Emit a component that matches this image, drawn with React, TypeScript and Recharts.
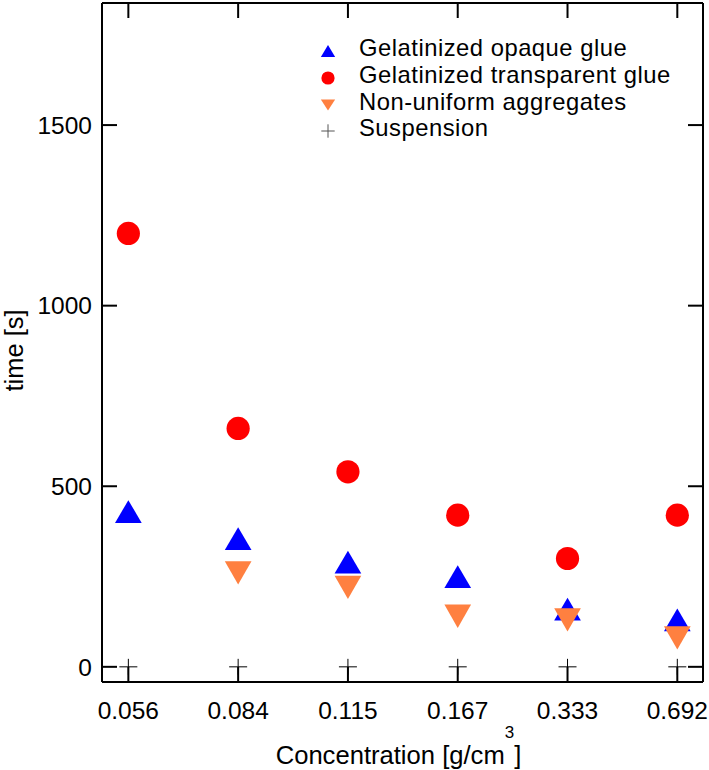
import React from "react";
import { ScatterChart, Scatter, XAxis, YAxis, Legend, Label } from "recharts";

// concentrations on the x axis (categorical, evenly spaced)
const concentrations = ["0.056", "0.084", "0.115", "0.167", "0.333", "0.692"];

// time [s] per series
const opaqueGlue = [430, 355, 290, 250, 160, 130];
const transparentGlue = [1200, 660, 540, 420, 300, 420];
const aggregates = [null, 260, 220, 140, 130, 80];
const suspension = [0, 0, 0, 0, 0, 0];

const yTicks = [0, 500, 1000, 1500];
const xTicks = concentrations.map((_, i) => i);

const toPoints = (vals: (number | null)[]) =>
    vals.map((v, i) => ({x: i, y: v})).filter((p) => p.y !== null);

const FONT = "'Liberation Sans', Arial, Helvetica, sans-serif";
const xDomain = [-0.24, 5.234];
const yDomain = [-42, 1838];

const UpTriangle = ({cx, cy, w = 26.7, h = 22.7, fill}: any) => (
    <polygon
        points={`${cx - w / 2},${cy + h / 2} ${cx + w / 2},${cy + h / 2} ${cx},${cy - h / 2}`}
        fill={fill}
    />
);

const DownTriangle = ({cx, cy, w = 26.7, h = 23.3, fill}: any) => (
    <polygon
        points={`${cx - w / 2},${cy - h / 2} ${cx + w / 2},${cy - h / 2} ${cx},${cy + h / 2}`}
        fill={fill}
    />
);

const Dot = ({cx, cy, r = 11.6, fill}: any) => <circle cx={cx} cy={cy} r={r} fill={fill}/>;

const Plus = ({cx, cy, hw = 9, hh = 8, stroke = "#000"}: any) => (
    <g stroke={stroke} strokeWidth={1}>
        <line x1={cx - hw} y1={cy} x2={cx + hw} y2={cy}/>
        <line x1={cx} y1={cy - hh} x2={cx} y2={cy + hh}/>
    </g>
);

const Nothing = () => <g/>;

const legendMarkers: Record<string, (c: number) => React.ReactNode> = {
    "Gelatinized opaque glue": (c) => <UpTriangle cx={c} cy={c} w={14.3} h={12} fill="#0000FF"/>,
    "Gelatinized transparent glue": (c) => <Dot cx={c} cy={c} r={6.6} fill="#FF0000"/>,
    "Non-uniform aggregates": (c) => <DownTriangle cx={c} cy={c} w={14.3} h={11} fill="#FF8040"/>,
    "Suspension": (c) => <Plus cx={c} cy={c} hw={6.7} hh={6.7} stroke="#555"/>,
};

const LegendBox = ({payload}: any) => (
    <div style={{fontFamily: FONT, fontSize: 23.8, letterSpacing: 0.5, color: "#000"}}>
        {(payload || [])
            .filter((entry: any) => legendMarkers[entry.value])
            .map((entry: any) => (
                <div
                    key={entry.value}
                    style={{position: "relative", height: 26.8, whiteSpace: "nowrap"}}
                >
                    <svg width={32} height={26} style={{position: "absolute", left: 0, top: 0}}>
                        {legendMarkers[entry.value](16)}
                    </svg>
                    <span
                        style={{
                            position: "absolute",
                            left: 47,
                            top: 0,
                            display: "block",
                            height: 26.8,
                            lineHeight: "26.8px",
                        }}
                    >
                        {entry.value}
                    </span>
                </div>
            ))}
    </div>
);

const YTitle = ({viewBox}: any) => {
    const x = viewBox.x + 14;
    const y = viewBox.y + viewBox.height / 2 + 8;
    return (
        <text
            x={x}
            y={y}
            transform={`rotate(-90, ${x}, ${y})`}
            textAnchor="middle"
            dominantBaseline="central"
            fontSize={25.5}
            fill="#000"
        >
            time [s]
        </text>
    );
};

const XTitle = ({viewBox}: any) => {
    const x = viewBox.x + viewBox.width / 2 - 4;
    const y = viewBox.y + 82;
    return (
        <text x={x} y={y} textAnchor="middle" fontSize={25.6} fill="#000">
            <tspan>Concentration [g/cm</tspan>
            <tspan dy={-26} fontSize={17}>3</tspan>
            <tspan dy={26}>]</tspan>
        </text>
    );
};

const frame = {stroke: "#000", strokeWidth: 2};
const inTick = {stroke: "#000", strokeWidth: 2};

export default function App() {
    return (
        <div style={{position: "absolute", left: 0, top: 0, fontFamily: FONT, background: "#fff"}}>
            <ScatterChart
                width={709}
                height={770}
                margin={{top: 3, right: 6, bottom: 0, left: 0}}
            >
                <XAxis
                    xAxisId="b"
                    type="number"
                    dataKey="x"
                    domain={xDomain}
                    allowDataOverflow
                    ticks={xTicks}
                    tickFormatter={(i: number) => concentrations[i]}
                    tick={{fill: "#000", fontSize: 24.5}}
                    tickLine={false}
                    tickSize={0}
                    tickMargin={20}
                    axisLine={frame}
                    height={88}
                    interval={0}
                >
                    <Label content={<XTitle/>}/>
                </XAxis>
                <XAxis
                    xAxisId="bIn"
                    type="number"
                    dataKey="x"
                    domain={xDomain}
                    allowDataOverflow
                    ticks={xTicks}
                    orientation="bottom"
                    mirror
                    tick={<Nothing/>}
                    tickSize={15}
                    tickLine={inTick}
                    axisLine={false}
                    height={30}
                    interval={0}
                />
                <XAxis
                    xAxisId="t"
                    type="number"
                    dataKey="x"
                    domain={xDomain}
                    allowDataOverflow
                    ticks={xTicks}
                    orientation="top"
                    mirror
                    tick={<Nothing/>}
                    tickSize={15}
                    tickLine={inTick}
                    axisLine={frame}
                    height={30}
                    interval={0}
                />
                <YAxis
                    yAxisId="l"
                    type="number"
                    dataKey="y"
                    domain={yDomain}
                    allowDataOverflow
                    ticks={yTicks}
                    tick={{fill: "#000", fontSize: 24.5}}
                    tickLine={false}
                    tickSize={0}
                    tickMargin={10}
                    axisLine={frame}
                    width={102}
                    interval={0}
                >
                    <Label content={<YTitle/>}/>
                </YAxis>
                <YAxis
                    yAxisId="lIn"
                    type="number"
                    dataKey="y"
                    domain={yDomain}
                    allowDataOverflow
                    ticks={yTicks}
                    orientation="left"
                    mirror
                    tick={<Nothing/>}
                    tickSize={15}
                    tickLine={inTick}
                    axisLine={false}
                    width={30}
                    interval={0}
                />
                <YAxis
                    yAxisId="r"
                    type="number"
                    dataKey="y"
                    domain={yDomain}
                    allowDataOverflow
                    ticks={yTicks}
                    orientation="right"
                    mirror
                    tick={<Nothing/>}
                    tickSize={15}
                    tickLine={inTick}
                    axisLine={frame}
                    width={30}
                    interval={0}
                />
                <Legend
                    layout="vertical"
                    align="center"
                    verticalAlign="middle"
                    content={<LegendBox/>}
                    wrapperStyle={{top: 35, left: 312, width: 390, bottom: "auto", right: "auto"}}
                />
                {/* invisible series that tie the frame axes into the chart */}
                <Scatter
                    data={toPoints(suspension)}
                    xAxisId="bIn"
                    yAxisId="lIn"
                    shape={<Nothing/>}
                    legendType="none"
                    isAnimationActive={false}
                />
                <Scatter
                    data={toPoints(suspension)}
                    xAxisId="t"
                    yAxisId="r"
                    shape={<Nothing/>}
                    legendType="none"
                    isAnimationActive={false}
                />
                <Scatter
                    name="Gelatinized opaque glue"
                    data={toPoints(opaqueGlue)}
                    xAxisId="b"
                    yAxisId="l"
                    fill="#0000FF"
                    shape={<UpTriangle/>}
                    isAnimationActive={false}
                />
                <Scatter
                    name="Gelatinized transparent glue"
                    data={toPoints(transparentGlue)}
                    xAxisId="b"
                    yAxisId="l"
                    fill="#FF0000"
                    shape={<Dot/>}
                    isAnimationActive={false}
                />
                <Scatter
                    name="Non-uniform aggregates"
                    data={toPoints(aggregates)}
                    xAxisId="b"
                    yAxisId="l"
                    fill="#FF8040"
                    shape={<DownTriangle/>}
                    isAnimationActive={false}
                />
                <Scatter
                    name="Suspension"
                    data={toPoints(suspension)}
                    xAxisId="b"
                    yAxisId="l"
                    fill="#000"
                    shape={<Plus/>}
                    isAnimationActive={false}
                />
            </ScatterChart>
        </div>
    );
}
